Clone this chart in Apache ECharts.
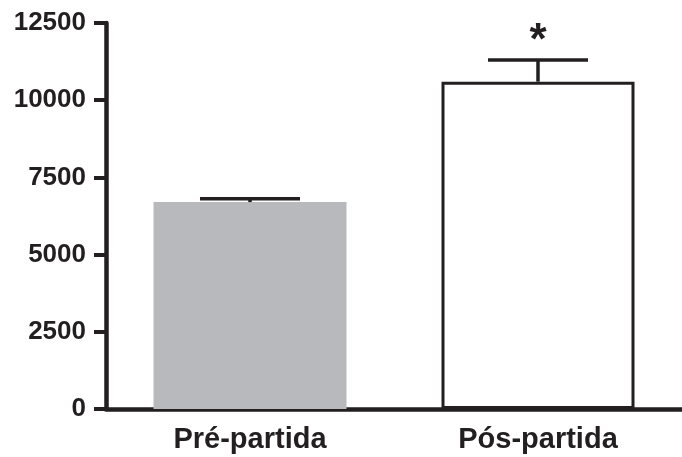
<!DOCTYPE html>
<html lang="pt">
<head>
  <meta charset="UTF-8">
  <title>Pré vs Pós-partida</title>
  <script src="https://cdn.jsdelivr.net/npm/echarts@6/dist/echarts.min.js"></script>
  <style>
    html, body { margin: 0; padding: 0; background: #fff; }
    #chart { width: 682px; height: 457px; }
  </style>
</head>
<body>
  <div id="chart"></div>
  <script>
    const categories = ['Pré-partida', 'Pós-partida'];
    const means = [6700, 10600];
    const errors = [110, 700];
    const marks = ['', '*'];
    const yTicks = [0, 2500, 5000, 7500, 10000, 12500];

    const ink = '#231f20';
    const font = '"Liberation Sans", Arial, sans-serif';

    const chart = echarts.init(document.getElementById('chart'));

    const option = {
      animation: false,
      grid: { left: 106, right: 0, top: 23, bottom: 48 },
      xAxis: {
        type: 'category',
        data: categories,
        axisLine: { lineStyle: { color: ink, width: 4.5 } },
        axisTick: { show: false },
        axisLabel: {
          color: ink,
          fontFamily: font,
          fontWeight: 'bold',
          fontSize: 29,
          margin: 16
        }
      },
      yAxis: {
        type: 'value',
        min: yTicks[0],
        max: yTicks[yTicks.length - 1],
        interval: 2500,
        splitLine: { show: false },
        axisLine: { show: true, lineStyle: { color: ink, width: 4.5 } },
        axisTick: { show: true, length: 12, lineStyle: { color: ink, width: 4 } },
        axisLabel: {
          color: ink,
          fontFamily: font,
          fontWeight: 'bold',
          fontSize: 26,
          margin: 20,
          formatter: v => String(v)
        }
      },
      series: [
        {
          type: 'bar',
          barWidth: 193,
          data: means.map((v, i) => ({
            value: v,
            itemStyle: i === 0
              ? { color: '#b8b9bc', borderWidth: 0 }
              : { color: '#ffffff', borderColor: ink, borderWidth: 3 }
          })),
          z: 2
        },
        {
          type: 'custom',
          data: means.map((v, i) => [i, v, v + errors[i]]),
          z: 3,
          renderItem: function (params, api) {
            const i = api.value(0);
            const base = api.coord([i, api.value(1)]);
            const top = api.coord([i, api.value(2)]);
            const half = 50;
            const style = { stroke: ink, lineWidth: 3.5 };
            const children = [
              { type: 'line', shape: { x1: base[0], y1: base[1], x2: top[0], y2: top[1] }, style: style },
              { type: 'line', shape: { x1: top[0] - half, y1: top[1], x2: top[0] + half, y2: top[1] }, style: style }
            ];
            if (marks[i]) {
              children.push({
                type: 'text',
                style: {
                  text: marks[i],
                  x: top[0],
                  y: top[1] + 4,
                  align: 'center',
                  verticalAlign: 'bottom',
                  fill: ink,
                  font: 'bold 44px ' + font
                }
              });
            }
            return { type: 'group', children: children };
          }
        }
      ]
    };

    chart.setOption(option);
  </script>
</body>
</html>
